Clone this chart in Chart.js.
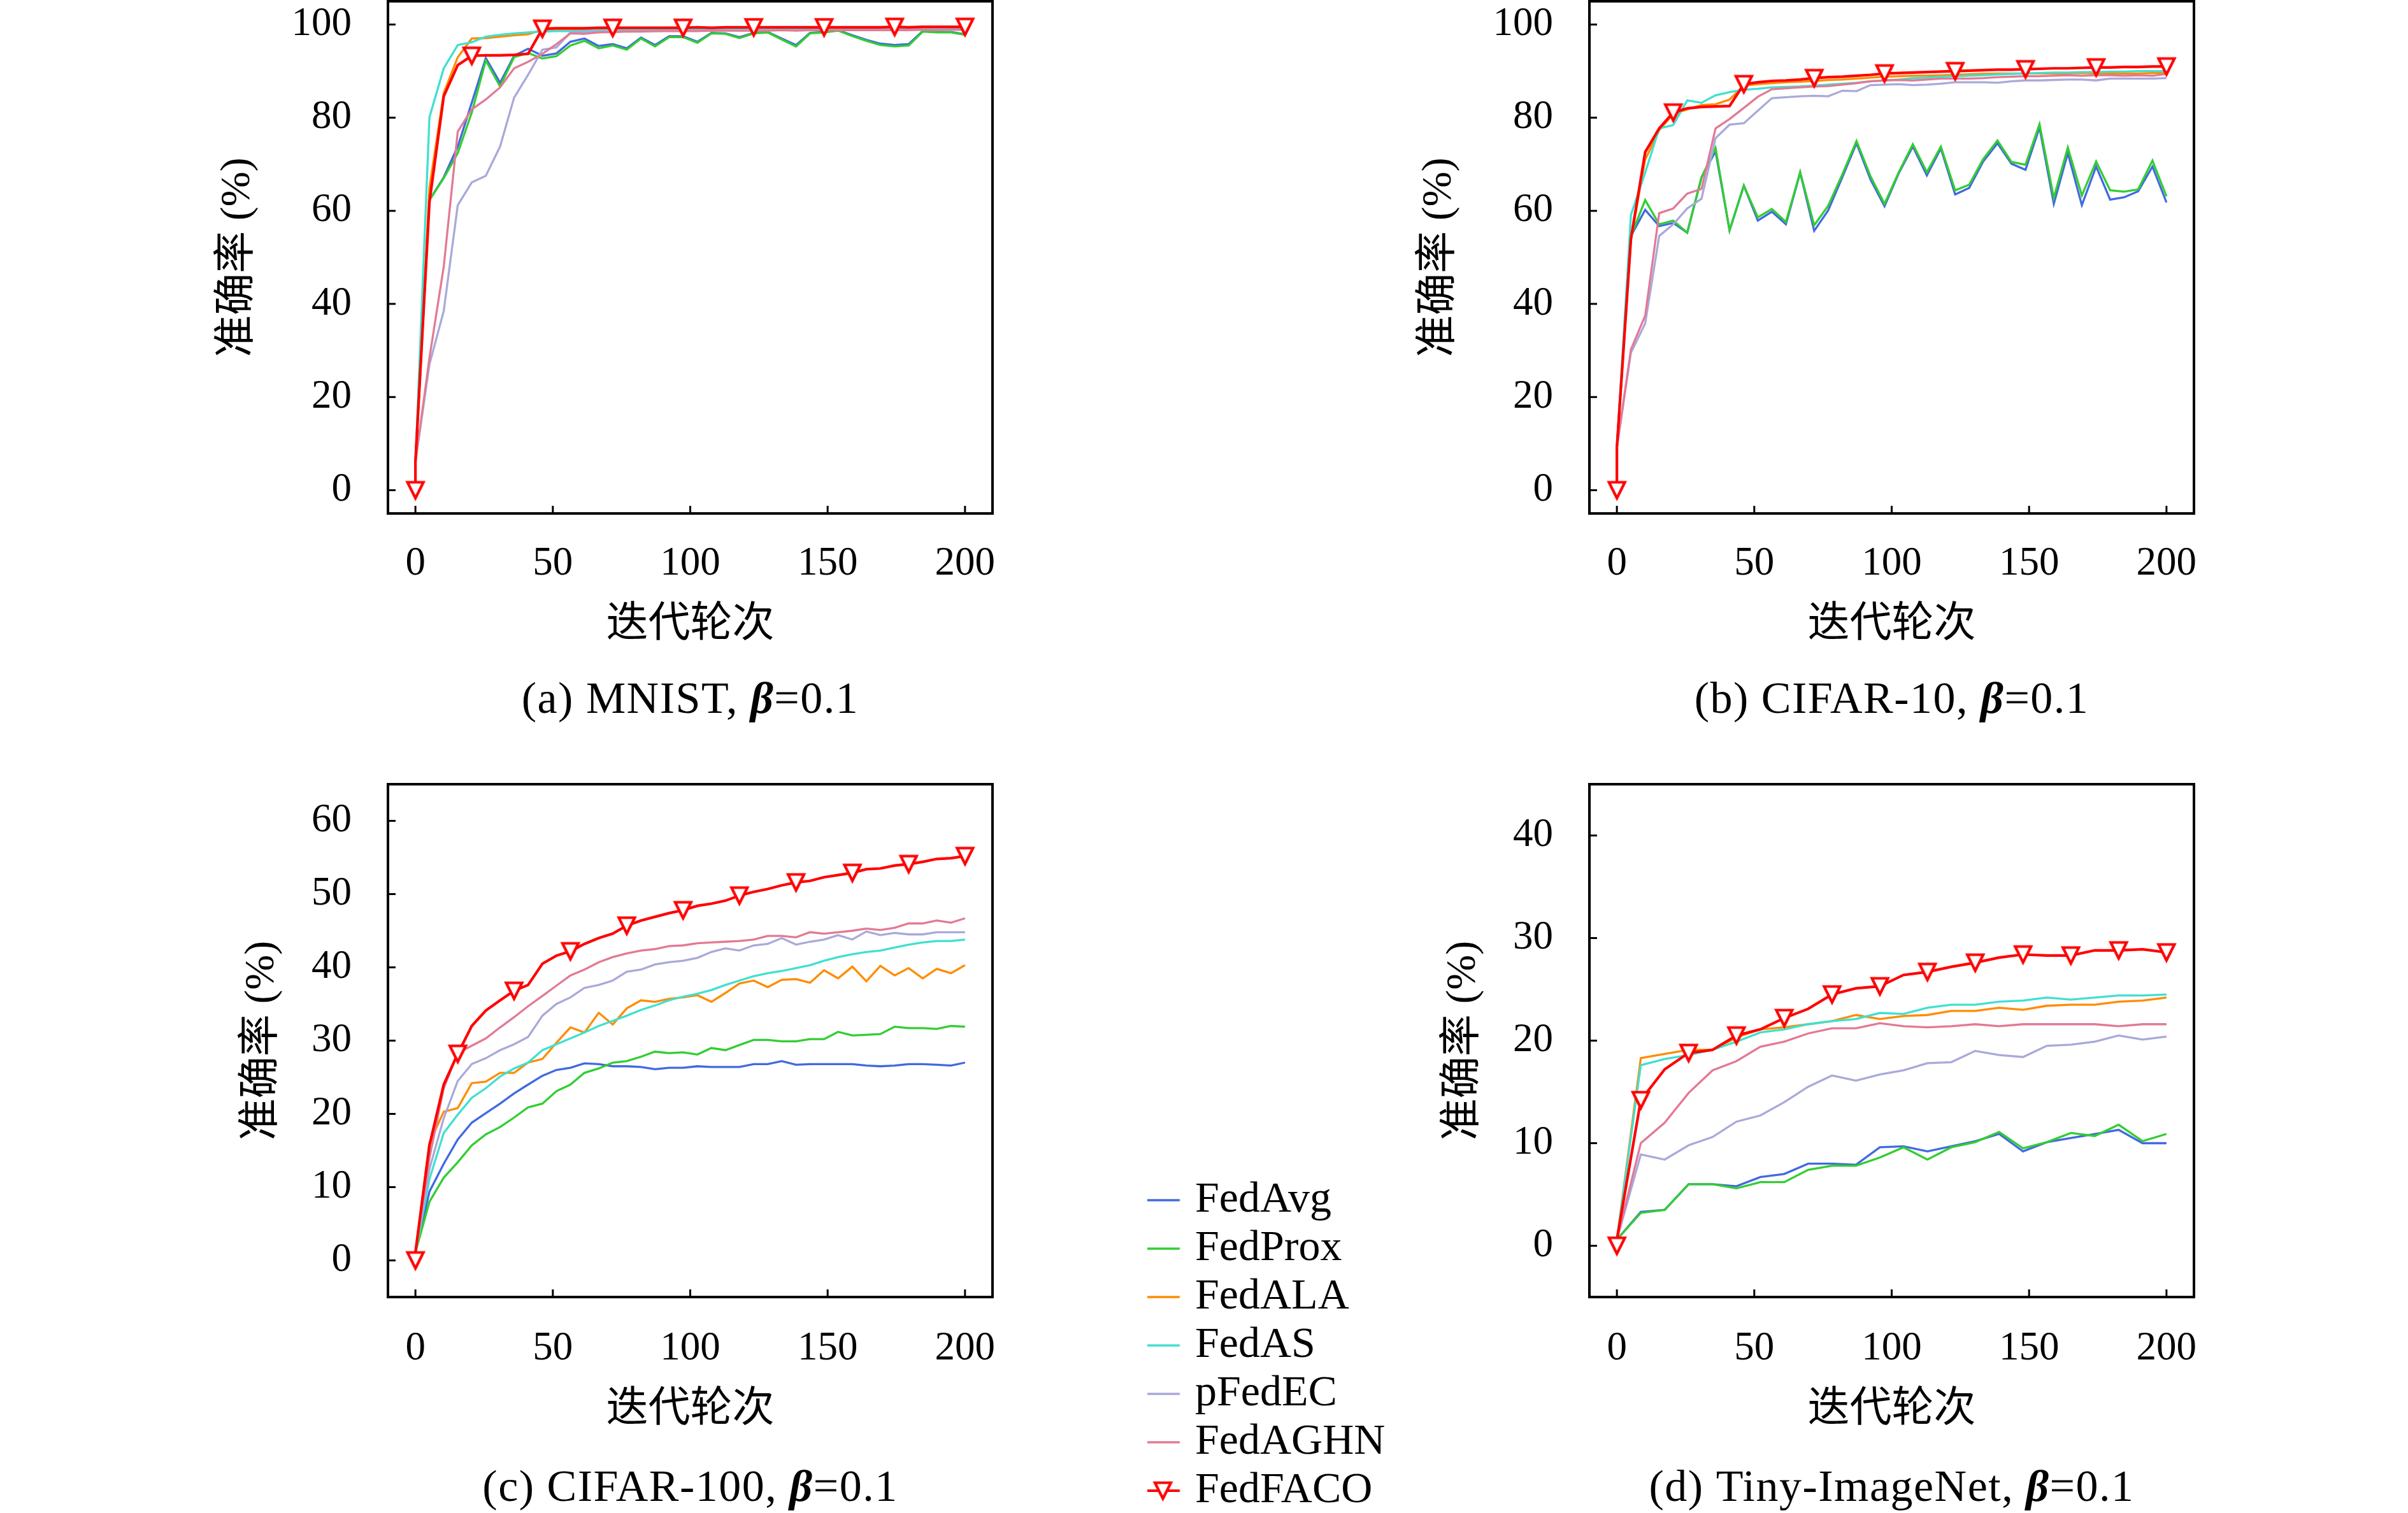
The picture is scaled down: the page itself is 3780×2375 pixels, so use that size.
<!DOCTYPE html>
<html>
<head>
<meta charset="utf-8">
<script src="https://cdn.jsdelivr.net/npm/chart.js@4.4.0/dist/chart.umd.min.js"></script>
<style>
  html, body { margin: 0; padding: 0; background: #fff; overflow: hidden; }
  body { width: 3780px; height: 2375px; position: relative; }
  canvas { position: absolute; }
</style>
</head>
<body>
<canvas id="chartA"></canvas>
<canvas id="chartB"></canvas>
<canvas id="chartC"></canvas>
<canvas id="chartD"></canvas>
<canvas id="legendBox"></canvas>
<script>
// Series names and colours (same order as the legend)
const methods = ['FedAvg', 'FedProx', 'FedALA', 'FedAS', 'pFedEC', 'FedAGHN', 'FedFACO'];
const colors = ['#4169e1', '#32cd32', '#ff8c00', '#40e0d0', '#a9a9da', '#e27a94', '#ff0000'];

// Communication rounds (x values) - 40 samples for a/b/c, 24 for d
const rounds40 = [0, 5.1, 10.3, 15.4, 20.5, 25.6, 30.8, 35.9, 41.0, 46.2, 51.3, 56.4, 61.5, 66.7, 71.8, 76.9, 82.1, 87.2, 92.3, 97.4,
  102.6, 107.7, 112.8, 117.9, 123.1, 128.2, 133.3, 138.5, 143.6, 148.7, 153.8, 159.0, 164.1, 169.2, 174.4, 179.5, 184.6, 189.7, 194.9, 200];
const rounds24 = [0, 8.7, 17.4, 26.1, 34.8, 43.5, 52.2, 60.9, 69.6, 78.3, 87.0, 95.7, 104.3, 113.0, 121.7, 130.4, 139.1, 147.8,
  156.5, 165.2, 173.9, 182.6, 191.3, 200];

// Tick labels
const xTicks = [0, 50, 100, 150, 200];
const yTicksAB = [0, 20, 40, 60, 80, 100];
const yTicksC = [0, 10, 20, 30, 40, 50, 60];
const yTicksD = [0, 10, 20, 30, 40];

// (a) MNIST, beta=0.1  (FedFACO starts with an extra point at round 0, accuracy 0)
const mnistAvg = [6.1, 62.3, 67.2, 73.8, 83.2, 92.8, 87.5, 93.3, 94.8, 93.3, 93.8, 96.3, 97.0, 95.4, 95.8, 94.9, 97.2, 95.6, 97.5, 97.5,
  96.3, 98.2, 98.1, 97.3, 98.2, 98.4, 97.0, 95.6, 98.2, 98.4, 98.8, 97.7, 96.7, 95.9, 95.6, 95.8, 98.6, 98.4, 98.4, 97.9];
const mnistProx = [6.1, 62.3, 67.0, 72.4, 81.1, 92.3, 86.7, 93.0, 93.9, 92.7, 93.2, 95.5, 96.5, 94.9, 95.5, 94.6, 97.0, 95.3, 97.3, 97.3,
  96.1, 98.1, 98.0, 97.1, 98.1, 98.3, 96.8, 95.3, 98.1, 98.3, 98.7, 97.5, 96.5, 95.6, 95.3, 95.5, 98.5, 98.3, 98.3, 97.8];
const mnistAla = [6.1, 65.0, 85.3, 93.0, 97.0, 97.1, 97.4, 97.7, 97.9, 98.9, 99.0, 99.0, 99.0, 99.1, 99.0, 99.1, 99.1, 99.1, 99.1, 99.1,
  99.1, 99.2, 99.1, 99.2, 99.2, 99.1, 99.2, 99.2, 99.2, 99.2, 99.2, 99.1, 99.2, 99.2, 99.2, 99.2, 99.2, 99.2, 99.2, 99.2];
const mnistAs = [6.1, 80.1, 90.6, 95.6, 96.2, 97.4, 97.8, 98.1, 98.3, 98.5, 98.6, 98.6, 98.7, 98.8, 98.8, 98.9, 98.9, 98.9, 99.0, 99.0,
  99.0, 99.0, 99.0, 99.1, 99.0, 99.1, 99.1, 99.1, 99.0, 99.1, 99.1, 99.1, 99.1, 99.1, 99.1, 99.1, 99.1, 99.1, 99.1, 99.1];
const mnistEc = [6.1, 27.0, 38.5, 61.2, 66.1, 67.5, 73.8, 84.3, 89.2, 94.6, 95.1, 98.3, 98.4, 98.5, 98.5, 98.6, 98.6, 98.6, 98.7, 98.7,
  98.7, 98.7, 98.8, 98.7, 98.8, 98.8, 98.8, 98.8, 98.8, 98.8, 98.9, 98.8, 98.8, 98.9, 98.9, 98.9, 98.9, 98.9, 98.9, 98.9];
const mnistAghn = [6.1, 28.4, 48.0, 77.0, 81.8, 83.9, 86.5, 90.6, 92.0, 93.7, 95.8, 98.1, 98.0, 98.3, 98.4, 98.5, 98.5, 98.6, 98.6, 98.6,
  98.6, 98.7, 98.7, 98.7, 98.7, 98.7, 98.8, 98.7, 98.8, 98.8, 98.8, 98.8, 98.8, 98.8, 98.8, 98.8, 98.9, 98.8, 98.9, 98.9];
const mnistFaco = [0, 6.1, 61.9, 84.6, 91.3, 93.3, 93.4, 93.4, 93.5, 93.7, 99.1, 99.2, 99.2, 99.2, 99.3, 99.3, 99.3, 99.3, 99.3, 99.3,
  99.3, 99.4, 99.3, 99.4, 99.4, 99.4, 99.4, 99.4, 99.4, 99.4, 99.4, 99.4, 99.4, 99.4, 99.4, 99.5, 99.4, 99.5, 99.5, 99.5, 99.5];

// (b) CIFAR-10, beta=0.1
const c10Avg = [9.2, 54.6, 60.2, 56.7, 57.4, 55.3, 67.2, 72.8, 55.8, 65.4, 57.9, 59.8, 57.1, 68.2, 55.7, 60.1, 67.3, 74.5, 66.7, 61.0,
  68.1, 73.8, 67.6, 73.4, 63.5, 64.9, 70.6, 74.5, 70.1, 68.8, 77.9, 61.5, 72.4, 61.2, 69.5, 62.4, 62.9, 64.2, 69.5, 61.8];
const c10Prox = [9.2, 54.6, 62.3, 57.1, 57.9, 55.3, 67.2, 73.5, 55.8, 65.4, 58.6, 60.4, 57.6, 68.3, 56.9, 61.1, 67.9, 75.0, 67.4, 61.5,
  68.3, 74.3, 68.3, 73.8, 64.4, 65.6, 71.1, 75.1, 70.5, 69.9, 78.6, 62.8, 73.6, 63.3, 70.6, 64.4, 64.1, 64.6, 70.8, 63.1];
const c10Ala = [9.2, 53.9, 71.0, 77.3, 80.8, 81.8, 82.7, 82.9, 83.9, 86.9, 87.2, 87.4, 87.6, 87.7, 87.9, 88.1, 88.2, 88.4, 88.6, 88.8,
  88.9, 89.0, 89.0, 89.1, 89.2, 89.3, 89.4, 89.5, 89.5, 89.5, 89.5, 89.5, 89.5, 89.6, 89.5, 89.5, 89.5, 89.5, 89.6, 89.6];
const c10As = [9.2, 59.1, 68.2, 77.7, 78.4, 83.7, 83.2, 84.8, 85.5, 86.0, 86.2, 86.5, 86.6, 86.7, 86.9, 87.1, 87.3, 87.5, 87.8, 88.0,
  88.2, 88.5, 88.6, 88.8, 88.9, 89.0, 89.1, 89.3, 89.4, 89.5, 89.6, 89.7, 89.7, 89.8, 89.8, 89.9, 89.9, 90.0, 90.0, 90.0];
const c10Ec = [9.2, 29.5, 35.8, 54.6, 57.1, 60.5, 62.6, 75.6, 78.5, 78.8, 81.5, 84.2, 84.4, 84.6, 84.7, 84.6, 85.8, 85.7, 87.0, 87.1,
  87.2, 87.0, 87.1, 87.3, 87.6, 87.6, 87.6, 87.5, 87.8, 88.0, 88.0, 88.1, 88.2, 88.2, 88.0, 88.4, 88.4, 88.4, 88.4, 88.5];
const c10Aghn = [9.2, 30.2, 37.5, 59.5, 60.5, 63.7, 64.7, 77.7, 79.7, 82.1, 84.5, 86.1, 86.3, 86.5, 86.7, 86.8, 87.1, 87.4, 87.8, 88.0,
  88.1, 88.0, 88.2, 88.4, 88.4, 88.4, 88.5, 88.7, 88.8, 88.9, 88.9, 89.0, 89.1, 89.0, 89.1, 89.1, 89.0, 89.1, 89.0, 89.4];
const c10Faco = [0, 9.2, 53.9, 72.6, 77.7, 81.1, 82.0, 82.3, 82.4, 82.5, 87.2, 87.6, 87.9, 88.0, 88.2, 88.5, 88.7, 88.8, 89.0, 89.2,
  89.5, 89.6, 89.7, 89.8, 89.9, 90.0, 90.1, 90.2, 90.3, 90.3, 90.4, 90.5, 90.6, 90.6, 90.7, 90.8, 90.8, 90.9, 90.9, 91.0, 91.0];

// (c) CIFAR-100, beta=0.1
const c100Avg = [1.1, 9.4, 13.2, 16.5, 18.8, 20.1, 21.4, 22.8, 24.0, 25.2, 26.0, 26.3, 26.9, 26.8, 26.5, 26.5, 26.4, 26.1, 26.3, 26.3,
  26.5, 26.4, 26.4, 26.4, 26.8, 26.8, 27.2, 26.7, 26.8, 26.8, 26.8, 26.8, 26.6, 26.5, 26.6, 26.8, 26.8, 26.7, 26.6, 27.0];
const c100Prox = [1.1, 8.0, 11.3, 13.4, 15.7, 17.2, 18.2, 19.5, 20.9, 21.4, 23.1, 24.0, 25.6, 26.2, 27.0, 27.2, 27.8, 28.5, 28.3, 28.4,
  28.1, 29.0, 28.7, 29.4, 30.1, 30.1, 29.9, 29.9, 30.2, 30.2, 31.2, 30.7, 30.8, 30.9, 31.9, 31.7, 31.7, 31.6, 32.0, 31.9];
const c100Ala = [1.1, 16.1, 20.3, 20.8, 24.2, 24.4, 25.6, 25.6, 27.0, 27.5, 29.7, 31.8, 31.1, 33.8, 32.2, 34.4, 35.5, 35.3, 35.7, 35.9,
  36.2, 35.3, 36.5, 37.8, 38.2, 37.3, 38.3, 38.4, 37.9, 39.6, 38.5, 40.1, 38.1, 40.2, 38.9, 39.9, 38.5, 39.8, 39.2, 40.3];
const c100As = [1.1, 11.1, 17.4, 19.9, 22.2, 23.5, 25.1, 26.2, 27.0, 28.7, 29.5, 30.3, 31.1, 32.0, 32.7, 33.4, 34.2, 34.8, 35.5, 36.0,
  36.4, 36.9, 37.6, 38.2, 38.8, 39.2, 39.5, 39.9, 40.3, 40.9, 41.4, 41.8, 42.1, 42.3, 42.7, 43.1, 43.4, 43.6, 43.6, 43.8];
const c100Ec = [1.1, 12.5, 19.4, 24.5, 26.8, 27.6, 28.7, 29.5, 30.5, 33.4, 35.0, 35.9, 37.2, 37.6, 38.2, 39.4, 39.7, 40.4, 40.7, 40.9,
  41.3, 42.1, 42.6, 42.3, 43.0, 43.2, 44.0, 43.1, 43.5, 43.8, 44.4, 43.8, 44.9, 44.4, 44.7, 44.5, 44.5, 44.8, 44.8, 44.8];
const c100Aghn = [1.1, 14.0, 23.5, 28.3, 29.3, 30.3, 31.8, 33.2, 34.7, 36.1, 37.5, 38.9, 39.7, 40.7, 41.4, 41.9, 42.3, 42.5, 42.9, 43.0,
  43.3, 43.4, 43.5, 43.6, 43.8, 44.3, 44.3, 44.1, 44.8, 44.6, 44.8, 45.0, 45.3, 45.1, 45.4, 46.0, 46.0, 46.4, 46.1, 46.7];
const c100Faco = [0, 1.1, 15.7, 24.0, 28.2, 32.0, 34.1, 35.5, 36.8, 37.6, 40.5, 41.6, 42.2, 43.2, 44.0, 44.6, 45.7, 46.4, 46.9, 47.4,
  47.8, 48.4, 48.7, 49.1, 49.8, 50.3, 50.7, 51.2, 51.6, 51.8, 52.3, 52.6, 52.9, 53.4, 53.5, 53.9, 54.1, 54.4, 54.8, 54.9, 55.2];

// (d) Tiny-ImageNet, beta=0.1
const tinyAvg = [0.6, 3.3, 3.5, 6.0, 6.0, 5.8, 6.7, 7.0, 8.0, 8.0, 7.9, 9.6, 9.7, 9.2, 9.7, 10.2, 10.9, 9.2, 10.1, 10.5, 10.9, 11.3, 10.0, 10.0];
const tinyProx = [0.6, 3.2, 3.5, 6.0, 6.0, 5.6, 6.2, 6.2, 7.4, 7.8, 7.8, 8.6, 9.6, 8.4, 9.6, 10.1, 11.1, 9.5, 10.1, 11.0, 10.7, 11.8, 10.2, 10.9];
const tinyAla = [0.6, 18.3, 18.7, 19.1, 19.1, 20.3, 21.1, 21.3, 21.6, 21.9, 22.5, 22.1, 22.4, 22.5, 22.9, 22.9, 23.2, 23.0, 23.4, 23.5, 23.5, 23.8, 23.9, 24.2];
const tinyAs = [0.6, 17.6, 18.2, 18.6, 19.1, 19.9, 20.8, 21.1, 21.6, 21.9, 22.1, 22.7, 22.6, 23.2, 23.5, 23.5, 23.8, 23.9, 24.2, 24.0, 24.2, 24.4, 24.4, 24.5];
const tinyEc = [0.6, 8.9, 8.4, 9.8, 10.6, 12.1, 12.7, 14.0, 15.5, 16.6, 16.1, 16.7, 17.1, 17.8, 17.9, 19.0, 18.6, 18.4, 19.5, 19.6, 19.9, 20.5, 20.1, 20.4];
const tinyAghn = [0.6, 10.0, 12.0, 14.9, 17.1, 18.0, 19.4, 19.9, 20.7, 21.2, 21.2, 21.7, 21.4, 21.3, 21.4, 21.6, 21.4, 21.6, 21.6, 21.6, 21.6, 21.4, 21.6, 21.6];
const tinyFaco = [0, 0.6, 14.2, 17.2, 18.8, 19.1, 20.5, 21.1, 22.2, 23.1, 24.5, 25.1, 25.3, 26.4, 26.7, 27.2, 27.6, 28.1, 28.4, 28.3, 28.3, 28.8, 28.8, 28.9, 28.6];

const serif = '"Liberation Serif", "Noto Sans CJK SC", serif';
Chart.defaults.font.family = serif;
Chart.defaults.color = '#000';

// hollow down-triangle marker, like the matplotlib 'v'
function makeMarker() {
  const c = document.createElement('canvas');
  c.width = 48; c.height = 48;
  const g = c.getContext('2d');
  g.beginPath();
  g.moveTo(11.5, 11.5); g.lineTo(36.5, 11.5); g.lineTo(24, 36.5); g.closePath();
  g.fillStyle = '#fff'; g.fill();
  g.lineWidth = 4.2; g.lineJoin = 'miter'; g.strokeStyle = '#ff0000'; g.stroke();
  return c;
}
const markerImg = makeMarker();

function makeIcon(color, width, withMarker) {
  const c = document.createElement('canvas');
  c.width = 56; c.height = 48;
  const g = c.getContext('2d');
  g.strokeStyle = color; g.lineWidth = width;
  g.beginPath(); g.moveTo(1.5, 24); g.lineTo(54.5, 24); g.stroke();
  if (withMarker) g.drawImage(markerImg, 4, 0);
  return c;
}
const legendIcons = colors.map((c, i) => makeIcon(c, i === 6 ? 4.2 : 3.3, i === 6));

// box around the plot area plus inward tick marks
const framePlugin = {
  id: 'frame',
  afterDatasetsDraw(chart) {
    const { ctx, chartArea: a, scales } = chart;
    ctx.save();
    ctx.strokeStyle = '#000';
    ctx.lineWidth = 3;
    ctx.beginPath();
    scales.x.ticks.forEach(t => {
      const px = scales.x.getPixelForValue(t.value);
      ctx.moveTo(px, a.bottom); ctx.lineTo(px, a.bottom - 12);
    });
    scales.y.ticks.forEach(t => {
      const py = scales.y.getPixelForValue(t.value);
      ctx.moveTo(a.left, py); ctx.lineTo(a.left + 12, py);
    });
    ctx.stroke();
    ctx.lineWidth = 4;
    ctx.strokeRect(a.left, a.top, a.right - a.left, a.bottom - a.top);
    ctx.restore();
  }
};

// sub-figure caption under each panel, beta in bold italic
const captionPlugin = {
  id: 'caption',
  afterDraw(chart, args, opts) {
    const ctx = chart.ctx;
    const a = chart.chartArea;
    const fonts = ['70px ' + serif, 'italic bold 70px ' + serif, '70px ' + serif];
    const texts = [opts.label, 'β', '=0.1'];
    ctx.save();
    ctx.letterSpacing = '1.5px';
    const widths = texts.map((t, i) => { ctx.font = fonts[i]; return ctx.measureText(t).width; });
    let x = (a.left + a.right) / 2 - widths.reduce((s, w) => s + w, 0) / 2;
    const y = a.bottom + opts.offset;
    ctx.fillStyle = '#000';
    ctx.textBaseline = 'middle';
    ctx.textAlign = 'left';
    texts.forEach((t, i) => { ctx.font = fonts[i]; ctx.fillText(t, x, y); x += widths[i]; });
    ctx.restore();
  }
};

function makePanel(id, geo, series, xs, markEvery, yRange, yTicks, label) {
  const canvas = document.getElementById(id);
  canvas.width = geo.w; canvas.height = geo.h;
  canvas.style.left = geo.x + 'px';
  canvas.style.top = geo.y + 'px';
  const facoX = [0].concat(xs);

  const datasets = methods.map((name, i) => {
    const isFaco = i === 6;
    const xv = isFaco ? facoX : xs;
    return {
      label: name,
      data: series[i].map((v, k) => ({ x: xv[k], y: v })),
      borderColor: colors[i],
      backgroundColor: colors[i],
      borderWidth: isFaco ? 4.2 : 3.3,
      pointStyle: isFaco ? markerImg : false,
      pointRadius: isFaco ? (c => (c.dataIndex % markEvery === 0 ? 10 : 0)) : 0,
      tension: 0,
      fill: false,
      order: 6 - i
    };
  });

  return new Chart(canvas, {
    type: 'line',
    data: { datasets },
    options: {
      responsive: false,
      animation: false,
      devicePixelRatio: 1,
      events: [],
      layout: { padding: { left: 20, right: 62, top: 102, bottom: geo.padBottom } },
      scales: {
        x: {
          type: 'linear', min: -10, max: 210,
          afterBuildTicks: s => { s.ticks = xTicks.map(v => ({ value: v })); },
          afterFit: s => { s.height = 230; },
          grid: { display: false },
          border: { display: false },
          ticks: { padding: geo.xTickPad, autoSkip: false, maxRotation: 0, font: { size: 63 }, callback: v => String(v) },
          title: { display: true, text: '迭代轮次', font: { size: 66 }, padding: { top: 0, bottom: geo.xTitlePad } }
        },
        y: {
          type: 'linear', min: yRange[0], max: yRange[1],
          afterBuildTicks: s => { s.ticks = yTicks.map(v => ({ value: v })); },
          afterFit: s => { s.width = 309; },
          grid: { display: false },
          border: { display: false },
          ticks: { padding: 49, autoSkip: false, font: { size: 63 }, callback: v => String(v) },
          title: { display: true, text: '准确率 (%)', font: { size: 66 }, padding: { top: geo.yTitlePad, bottom: 0 } }
        }
      },
      plugins: {
        legend: { display: false },
        tooltip: { enabled: false },
        caption: { label: label, offset: geo.capOffset }
      }
    },
    plugins: [framePlugin, captionPlugin]
  });
}

const geoA = { x: 280, y: -100, w: 1340, h: 1280, padBottom: 144, xTickPad: 34, xTitlePad: 15, yTitlePad: 34, capOffset: 295 };
const geoB = Object.assign({}, geoA, { x: 2166 });
const geoC = { x: 280, y: 1129, w: 1340, h: 1246, padBottom: 109, xTickPad: 36, xTitlePad: 13, yTitlePad: 72, capOffset: 302 };
const geoD = Object.assign({}, geoC, { x: 2166 });

makePanel('chartA', geoA, [mnistAvg, mnistProx, mnistAla, mnistAs, mnistEc, mnistAghn, mnistFaco], rounds40, 5, [-5, 105], yTicksAB, '(a) MNIST, ');
makePanel('chartB', geoB, [c10Avg, c10Prox, c10Ala, c10As, c10Ec, c10Aghn, c10Faco], rounds40, 5, [-5, 105], yTicksAB, '(b) CIFAR-10, ');
makePanel('chartC', geoC, [c100Avg, c100Prox, c100Ala, c100As, c100Ec, c100Aghn, c100Faco], rounds40, 4, [-5, 65], yTicksC, '(c) CIFAR-100, ');
makePanel('chartD', geoD, [tinyAvg, tinyProx, tinyAla, tinyAs, tinyEc, tinyAghn, tinyFaco], rounds24, 2, [-5, 45], yTicksD, '(d) Tiny-ImageNet, ');

// shared legend between the lower panels
const lg = document.getElementById('legendBox');
lg.width = 1000; lg.height = 660;
lg.style.left = '1801px';
lg.style.top = '1742px';
new Chart(lg, {
  type: 'line',
  data: { datasets: methods.map((m, i) => ({ label: m, data: [], borderColor: colors[i], backgroundColor: colors[i] })) },
  options: {
    responsive: false,
    animation: false,
    devicePixelRatio: 1,
    events: [],
    layout: { padding: { top: 100 } },
    scales: { x: { display: false }, y: { display: false } },
    plugins: {
      tooltip: { enabled: false },
      legend: {
        position: 'left',
        align: 'start',
        labels: {
          usePointStyle: true,
          pointStyleWidth: 33,
          padding: 8,
          font: { size: 68 },
          color: '#000',
          generateLabels: chart => chart.data.datasets.map((d, i) => ({
            text: d.label,
            pointStyle: legendIcons[i],
            fillStyle: d.borderColor,
            strokeStyle: d.borderColor,
            lineWidth: 0,
            hidden: false,
            datasetIndex: i
          }))
        }
      }
    }
  }
});
</script>
</body>
</html>
